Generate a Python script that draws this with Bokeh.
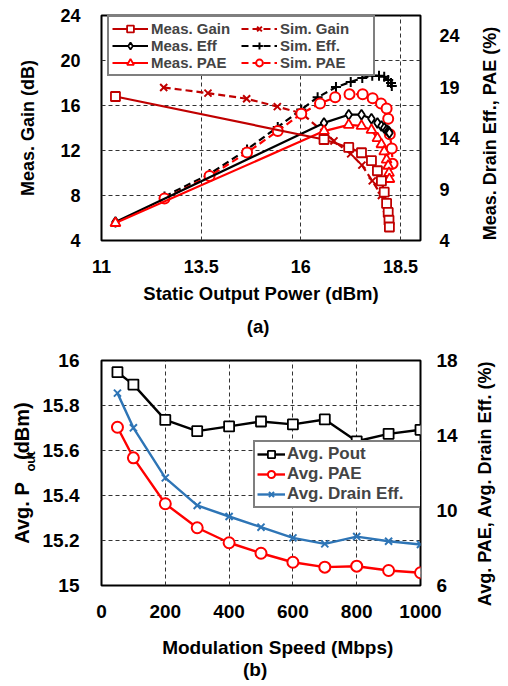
import math
from bokeh.plotting import figure
from bokeh.models import Range1d, LinearAxis, FixedTicker, Legend, LegendItem, Label
from bokeh.layouts import column
from bokeh.embed import file_html
from bokeh.resources import INLINE

FONT = "Liberation Sans"

# ---------------- (a) data ----------------
meas_pout = [11.35, 16.58, 17.2, 17.52, 17.77, 17.92, 18.02, 18.09, 18.15, 18.19, 18.21, 18.22]
meas_gain = [16.8, 12.98, 12.27, 11.8, 11.1, 10.2, 9.3, 8.3, 7.3, 6.5, 5.8, 5.2]
meas_eff = [5.8, 15.5, 16.3, 16.3, 15.9, 15.5, 15.2, 15.0, 14.8, 14.7, 14.6, 14.5]
meas_pae = [5.7, 14.7, 15.3, 15.2, 14.8, 14.0, 13.4, 12.7, 11.9, 11.3, 10.6, 10.0]

sim_gain_pout = [12.56, 13.67, 14.64, 15.41, 16.02, 16.83, 17.25, 17.53, 17.79, 18.02, 18.15, 18.2, 18.23]
sim_gain = [17.6, 17.1, 16.6, 15.9, 15.3, 12.85, 11.7, 10.7, 9.3, 8.0, 6.8, 6.0, 5.2]
sim_eff_pout = [12.58, 13.71, 14.65, 15.42, 16.01, 16.42, 16.88, 17.25, 17.54, 17.79, 17.96, 18.09, 18.19, 18.26, 18.28]
sim_eff = [8.3, 10.5, 12.9, 15.1, 16.8, 18.0, 19.0, 19.5, 19.9, 20.1, 20.1, 20.0, 19.7, 19.4, 19.1]
sim_pae_pout = [12.58, 13.71, 14.65, 15.42, 16.01, 16.48, 16.86, 17.22, 17.55, 17.8, 18.01, 18.15, 18.19, 18.23, 18.28, 18.3]
sim_pae = [8.1, 10.3, 12.6, 14.7, 16.4, 17.4, 18.0, 18.3, 18.3, 17.9, 17.4, 16.9, 15.9, 14.4, 13.0, 11.5]

a_x_ticks = [11, 13.5, 16, 18.5]
a_left_ticks = [4, 8, 12, 16, 20, 24]
a_right_ticks = [4, 9, 14, 19, 24]

# ---------------- (b) data ----------------
speed = [50, 100, 200, 300, 400, 500, 600, 700, 800, 900, 1000]
avg_pout = [15.948, 15.893, 15.736, 15.686, 15.707, 15.729, 15.716, 15.738, 15.641, 15.674, 15.692]
avg_pae = [14.44, 12.81, 10.36, 9.08, 8.28, 7.72, 7.24, 6.98, 7.03, 6.80, 6.68]
avg_de = [16.26, 14.41, 11.74, 10.27, 9.68, 9.11, 8.54, 8.22, 8.61, 8.36, 8.19]

b_x_ticks = [0, 200, 400, 600, 800, 1000]
b_left_ticks = [15, 15.2, 15.4, 15.6, 15.8, 16]
b_right_ticks = [6, 10, 14, 18]

DARKRED = "#C00000"
RED = "#FF0000"
BLUE = "#2E75B6"
W = 506


def style_axis(ax, size, standoff):
    ax.axis_line_color = None
    ax.major_tick_line_color = None
    ax.minor_tick_line_color = None
    ax.major_tick_out = 0
    ax.major_tick_in = 0
    ax.major_label_text_font = FONT
    ax.major_label_text_font_style = "bold"
    ax.major_label_text_font_size = size
    ax.major_label_text_color = "black"
    ax.major_label_standoff = standoff
    ax.axis_label_text_font = FONT
    ax.axis_label_text_font_style = "bold"
    ax.axis_label_text_color = "black"


def set_title(ax, text, size, standoff):
    ax.axis_label = text
    ax.axis_label_text_font_size = size
    ax.axis_label_standoff = standoff


def style_fig(p):
    p.outline_line_color = "black"
    p.outline_line_width = 2
    p.outline_line_alpha = 1
    p.background_fill_color = "white"
    p.border_fill_color = "white"
    for g in (p.xgrid, p.ygrid):
        g.grid_line_color = "#333333"
        g.grid_line_dash = "4 3"
        g.grid_line_width = 1


def add_label(p, geo, place, text, dx, dy, size, angle=0.0):
    # dx, dy: pixel offsets of the text centre from the frame's lower-left corner,
    # converted through the ranges. Vertical texts go into left/right panels,
    # horizontal ones into above/below.
    x0, y0, sx, sy = geo
    p.add_layout(Label(x=x0 + dx / sx, y=y0 + dy / sy, text=text,
                       angle=angle, text_align="center", text_baseline="middle",
                       text_font=FONT, text_font_style="bold", text_font_size=size,
                       text_color="black"), place)


# ================= figure (a) =================
A_L, A_R, A_T, A_B, A_H = 96, 420, 15, 240, 338
p1 = figure(width=W, height=A_H, x_range=Range1d(11, 19), y_range=Range1d(4, 24),
            output_backend="svg", toolbar_location=None,
            min_border_left=A_L, min_border_right=W - A_R, min_border_top=A_T,
            min_border_bottom=A_H - A_B)
p1.extra_y_ranges = {"right": Range1d(4, 26)}
style_fig(p1)
p1.xaxis.ticker = FixedTicker(ticks=a_x_ticks)
p1.yaxis.ticker = FixedTicker(ticks=a_left_ticks)
p1.xgrid.ticker = FixedTicker(ticks=a_x_ticks)
p1.ygrid.ticker = FixedTicker(ticks=a_left_ticks)
style_axis(p1.xaxis[0], "18px", 19)
style_axis(p1.yaxis[0], "18px", 21)
set_title(p1.xaxis[0], "Static Output Power (dBm)", "18.5px", 7)
set_title(p1.yaxis[0], "Meas. Gain (dB)", "18px", 19)
ra = LinearAxis(y_range_name="right", ticker=FixedTicker(ticks=a_right_ticks))
style_axis(ra, "18px", 19)
p1.add_layout(ra, "right")

# simulated (dashed)
l_sg = p1.line(sim_gain_pout, sim_gain, line_color=DARKRED, line_width=2.2, line_dash="7 4")
s_sg = p1.scatter(sim_gain_pout, sim_gain, marker="x", size=10, line_color=DARKRED, line_width=2)
l_se = p1.line(sim_eff_pout, sim_eff, y_range_name="right", line_color="black", line_width=2.2, line_dash="7 4")
s_se = p1.scatter(sim_eff_pout, sim_eff, y_range_name="right", marker="cross", size=10,
                  line_color="black", line_width=2)
l_sp = p1.line(sim_pae_pout, sim_pae, y_range_name="right", line_color=RED, line_width=2.2, line_dash="7 4")
s_sp = p1.scatter(sim_pae_pout, sim_pae, y_range_name="right", marker="circle", size=10,
                  line_color=RED, fill_color="white", line_width=2)
# measured (solid)
l_me = p1.line(meas_pout, meas_eff, y_range_name="right", line_color="black", line_width=2.2)
s_me = p1.scatter(meas_pout, meas_eff, y_range_name="right", marker="diamond", size=10,
                  line_color="black", fill_color="white", line_width=1.8)
l_mp = p1.line(meas_pout, meas_pae, y_range_name="right", line_color=RED, line_width=2.2)
s_mp = p1.scatter(meas_pout, meas_pae, y_range_name="right", marker="triangle", size=10,
                  line_color=RED, fill_color="white", line_width=1.8)
l_mg = p1.line(meas_pout, meas_gain, line_color=DARKRED, line_width=2.2)
s_mg = p1.scatter(meas_pout, meas_gain, marker="square", size=9,
                  line_color=DARKRED, fill_color="white", line_width=1.8)

leg1 = Legend(items=[
    LegendItem(label="Meas. Gain", renderers=[l_mg, s_mg]),
    LegendItem(label="Meas. Eff", renderers=[l_me, s_me]),
    LegendItem(label="Meas. PAE", renderers=[l_mp, s_mp]),
    LegendItem(label="Sim. Gain", renderers=[l_sg, s_sg]),
    LegendItem(label="Sim. Eff.", renderers=[l_se, s_se]),
    LegendItem(label="Sim. PAE", renderers=[l_sp, s_sp]),
], location=(6, 164), orientation="vertical", ncols=2,
    label_text_font=FONT, label_text_font_style="bold", label_text_font_size="15px",
    glyph_width=36, glyph_height=17, label_height=17, label_width=90, label_standoff=3,
    spacing=0, padding=3, margin=0, border_line_color="black", border_line_width=2,
    background_fill_color="white", background_fill_alpha=1)
p1.add_layout(leg1, "center")

geo_a = (11, 4, (A_R - A_L) / 8.0, (A_B - A_T) / 20.0)
add_label(p1, geo_a, "right", "Meas. Drain Eff., PAE (%)", 395, 107, "18px", angle=math.pi / 2)
add_label(p1, geo_a, "below", "(a)", 159, -86, "18.5px")

# ================= figure (b) =================
B_L, B_R, B_T, B_B, B_H = 101, 425, 22, 247, 346   # frame positions inside figure (b)
p2 = figure(width=W, height=B_H, x_range=Range1d(0, 1000), y_range=Range1d(15, 16),
            output_backend="svg", toolbar_location=None,
            min_border_left=B_L, min_border_right=W - B_R, min_border_top=B_T,
            min_border_bottom=B_H - B_B)
p2.extra_y_ranges = {"right": Range1d(6, 18)}
style_fig(p2)
p2.xaxis.ticker = FixedTicker(ticks=b_x_ticks)
p2.yaxis.ticker = FixedTicker(ticks=b_left_ticks)
p2.xgrid.ticker = FixedTicker(ticks=b_x_ticks)
p2.ygrid.ticker = FixedTicker(ticks=b_left_ticks)
p2.yaxis[0].formatter.use_scientific = False
style_axis(p2.xaxis[0], "19px", 19)
style_axis(p2.yaxis[0], "19px", 22)
# a gap of no-break spaces leaves room for the subscript "out"
set_title(p2.yaxis[0], "Avg. P" + "\u00a0" * 4 + "(dBm)", "20px", 7)
rb = LinearAxis(y_range_name="right", ticker=FixedTicker(ticks=b_right_ticks))
style_axis(rb, "19px", 16)
p2.add_layout(rb, "right")

l_po = p2.line(speed, avg_pout, line_color="black", line_width=2.4)
s_po = p2.scatter(speed, avg_pout, marker="square", size=10, line_color="black",
                  fill_color="white", line_width=1.8)
l_pa = p2.line(speed, avg_pae, y_range_name="right", line_color=RED, line_width=2.4)
s_pa = p2.scatter(speed, avg_pae, y_range_name="right", marker="circle", size=11,
                  line_color=RED, fill_color="white", line_width=2)
l_de = p2.line(speed, avg_de, y_range_name="right", line_color=BLUE, line_width=2.4)
s_de = p2.scatter(speed, avg_de, y_range_name="right", marker="x", size=10,
                  line_color=BLUE, line_width=2)

leg2 = Legend(items=[
    LegendItem(label="Avg. Pout", renderers=[l_po, s_po]),
    LegendItem(label="Avg. PAE", renderers=[l_pa, s_pa]),
    LegendItem(label="Avg. Drain Eff.", renderers=[l_de, s_de]),
], location=(152, 77), orientation="vertical",
    label_text_font=FONT, label_text_font_style="bold", label_text_font_size="17px",
    glyph_width=28, glyph_height=18, label_height=18, label_width=134, label_standoff=2,
    spacing=0, padding=2, margin=0, border_line_color="black", border_line_width=2,
    background_fill_color="white", background_fill_alpha=1)
p2.add_layout(leg2, "center")

geo_b = (0, 15, (B_R - B_L) / 1000.0, (B_B - B_T) / 1.0)
add_label(p2, geo_b, "above", "out", -72.5, 124, "13px", angle=math.pi / 2)
add_label(p2, geo_b, "right", "Avg. PAE, Avg. Drain Eff. (%)", 390, 102, "18px", angle=math.pi / 2)
add_label(p2, geo_b, "below", "Modulation Speed (Mbps)", 179, -62, "19px")
add_label(p2, geo_b, "below", "(b)", 156, -84, "19px")

layout = column(p1, p2)
open("out.html", "w").write(file_html(layout, INLINE))
